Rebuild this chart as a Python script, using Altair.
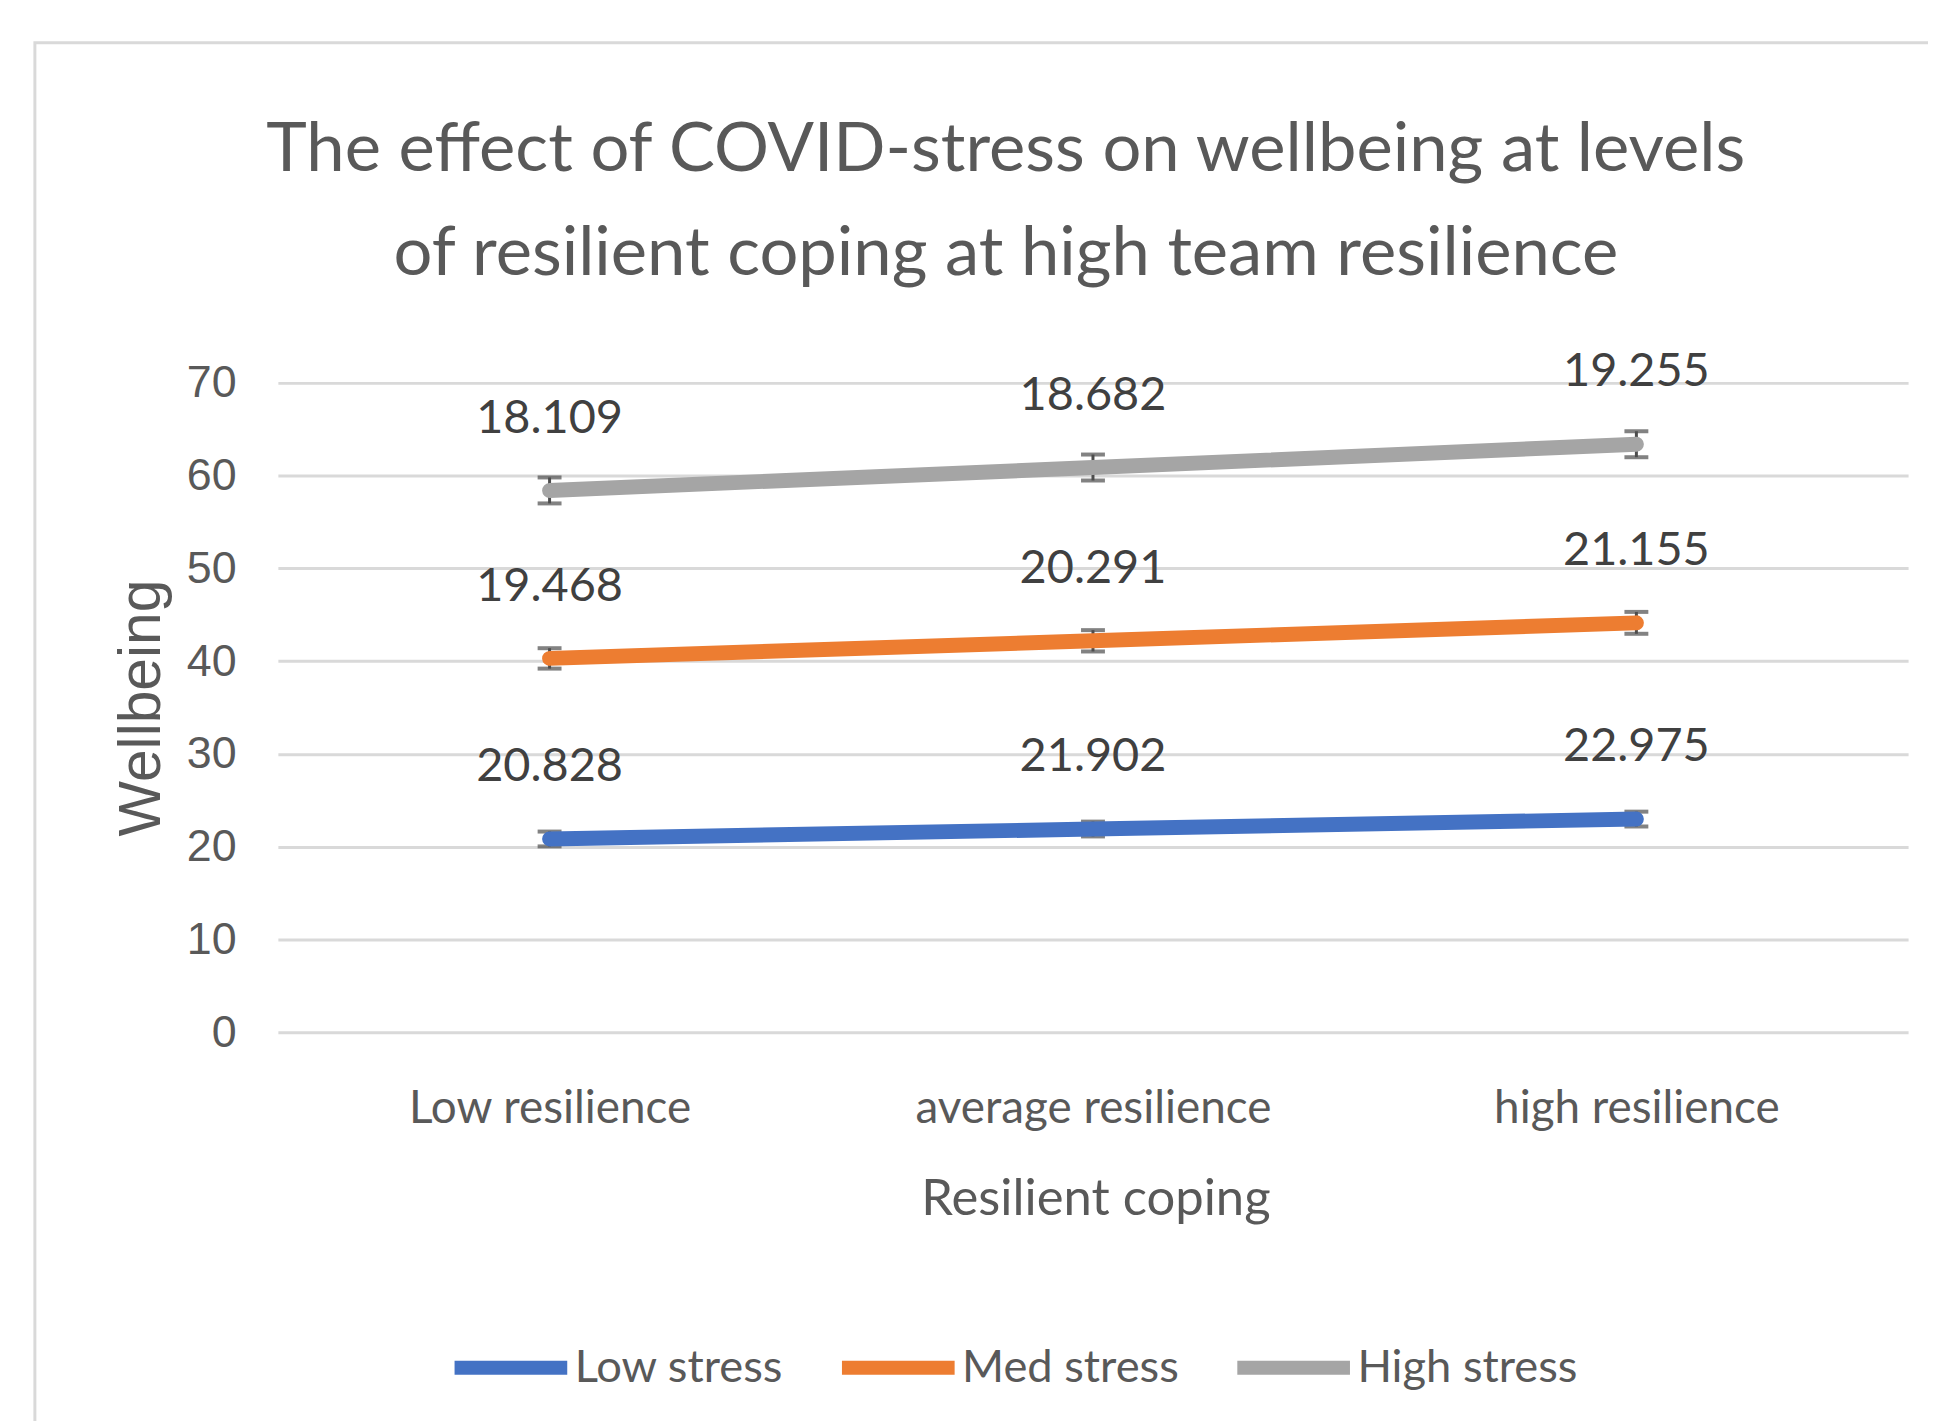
import altair as alt
import pandas as pd

categories = ["Low resilience", "average resilience", "high resilience"]
series_names = ["Low stress", "Med stress", "High stress"]
series_colors = ["#4472C4", "#ED7D31", "#A5A5A5"]

low_stress = [20.828, 21.902, 22.975]
med_stress = [19.468, 20.291, 21.155]
high_stress = [18.109, 18.682, 19.255]

err_low = [0.8, 0.8, 0.8]
err_med = [1.1, 1.15, 1.18]
err_high = [1.4, 1.4, 1.4]

y_ticks = [0, 10, 20, 30, 40, 50, 60, 70]

title_lines = [
    "The effect of COVID-stress on wellbeing at levels",
    "of resilient coping at high team resilience",
]

rows = []
for s_idx, (name, vals, errs) in enumerate(
    zip(series_names, [low_stress, med_stress, high_stress], [err_low, err_med, err_high])
):
    for c_idx, (cat, v, e) in enumerate(zip(categories, vals, errs)):
        rows.append({"category": cat, "xi": c_idx, "series": name,
                     "order": s_idx, "value": v, "err": e})
df = pd.DataFrame(rows)

HUM = "Lato"
REG = "Liberation Sans"
TXT = "#595959"
ERRC = "#4D4D4D"

W, H = 1637, 652
PAD_L, PAD_T = 271, 373.5
PAD_R = 1928 - PAD_L - W
PAD_B = 1413 - PAD_T - H

x_enc = alt.X(
    "category:N",
    sort=categories,
    scale=alt.Scale(type="point", padding=0.5),
    axis=alt.Axis(
        title="Resilient coping",
        labelFont=HUM, labelFontSize=46, labelColor=TXT, labelPadding=55,
        labelLimit=600, labelAngle=0,
        titleFont=HUM, titleFontSize=51, titleColor=TXT, titleFontWeight="normal",
        titleX=821, titleY=183, titleBaseline="alphabetic", titleAnchor="middle",
        ticks=False, domain=False, grid=False,
    ),
)

y_axis = alt.Axis(
    title="Wellbeing",
    values=y_ticks,
    labelFont=REG, labelFontSize=45, labelColor=TXT, labelPadding=42,
    titleFont=REG, titleFontSize=59, titleColor=TXT, titleFontWeight="normal",
    titleX=-118.5, titleY=326, titleAngle=-90, titleBaseline="alphabetic",
    titleAlign="center",
    ticks=False, domain=False,
    grid=True, gridColor="#D9D9D9", gridWidth=3,
)
y_scale = alt.Scale(domain=[0, 70], nice=False, zero=True)

base = (
    alt.Chart(df)
    .transform_stack(
        stack="value", groupby=["category"], as_=["v0", "v1"],
        sort=[alt.SortField("order", "ascending")],
    )
    .transform_calculate(lo="datum.v1 - datum.err", hi="datum.v1 + datum.err")
)

frame = alt.Chart(pd.DataFrame({"a": [0]})).mark_rect(
    filled=False, stroke="#D9D9D9", strokeWidth=3
).encode(
    x=alt.value(-244), x2=alt.value(1700), y=alt.value(-341.5), y2=alt.value(1100)
)

stems = base.mark_rule(color=ERRC, strokeWidth=3).encode(
    x=x_enc,
    y=alt.Y("lo:Q", scale=y_scale, axis=y_axis),
    y2="hi:Q",
)
caps_lo = base.mark_tick(color=ERRC, thickness=4, size=24).encode(
    x=x_enc, y=alt.Y("lo:Q", scale=y_scale, axis=y_axis)
)
caps_hi = base.mark_tick(color=ERRC, thickness=4, size=24).encode(
    x=x_enc, y=alt.Y("hi:Q", scale=y_scale, axis=y_axis)
)

lines = base.mark_line(strokeWidth=15, strokeCap="round", strokeJoin="round").encode(
    x=x_enc,
    y=alt.Y("v1:Q", scale=y_scale, axis=y_axis),
    color=alt.Color(
        "series:N",
        scale=alt.Scale(domain=series_names, range=series_colors),
        legend=alt.Legend(
            title=None, orient="none", legendX=170, legendY=925,
            direction="horizontal", columns=3,
            symbolType="stroke", symbolStrokeWidth=14, symbolSize=12800,
            labelFont=HUM, labelFontSize=45.5, labelColor=TXT,
            labelOffset=0, columnPadding=30, labelLimit=600,
        ),
        sort=series_names,
    ),
    detail="series:N",
    order=alt.Order("xi:Q"),
)

labels = base.mark_text(
    dy=-58, baseline="alphabetic", align="center",
    font=HUM, fontSize=47, color="#404040",
).encode(
    x=x_enc,
    y=alt.Y("v1:Q", scale=y_scale, axis=y_axis),
    text=alt.Text("value:Q", format=".3f"),
)

chart = (
    alt.layer(frame, stems, caps_lo, caps_hi, lines, labels)
    .properties(
        width=W, height=H,
        autosize=alt.AutoSizeParams(type="none"),
        padding={"left": PAD_L, "top": PAD_T, "right": PAD_R, "bottom": PAD_B},
        title=alt.TitleParams(
            text=title_lines, font=HUM, fontSize=69, fontWeight="normal",
            color=TXT, lineHeight=105, anchor="middle", frame="group",
            dx=-87.5, baseline="alphabetic", offset=-304,
        ),
    )
    .configure(background="white")
    .configure_view(stroke=None)
)

chart.save("out.html", embed_options={"renderer": "svg", "actions": False})
